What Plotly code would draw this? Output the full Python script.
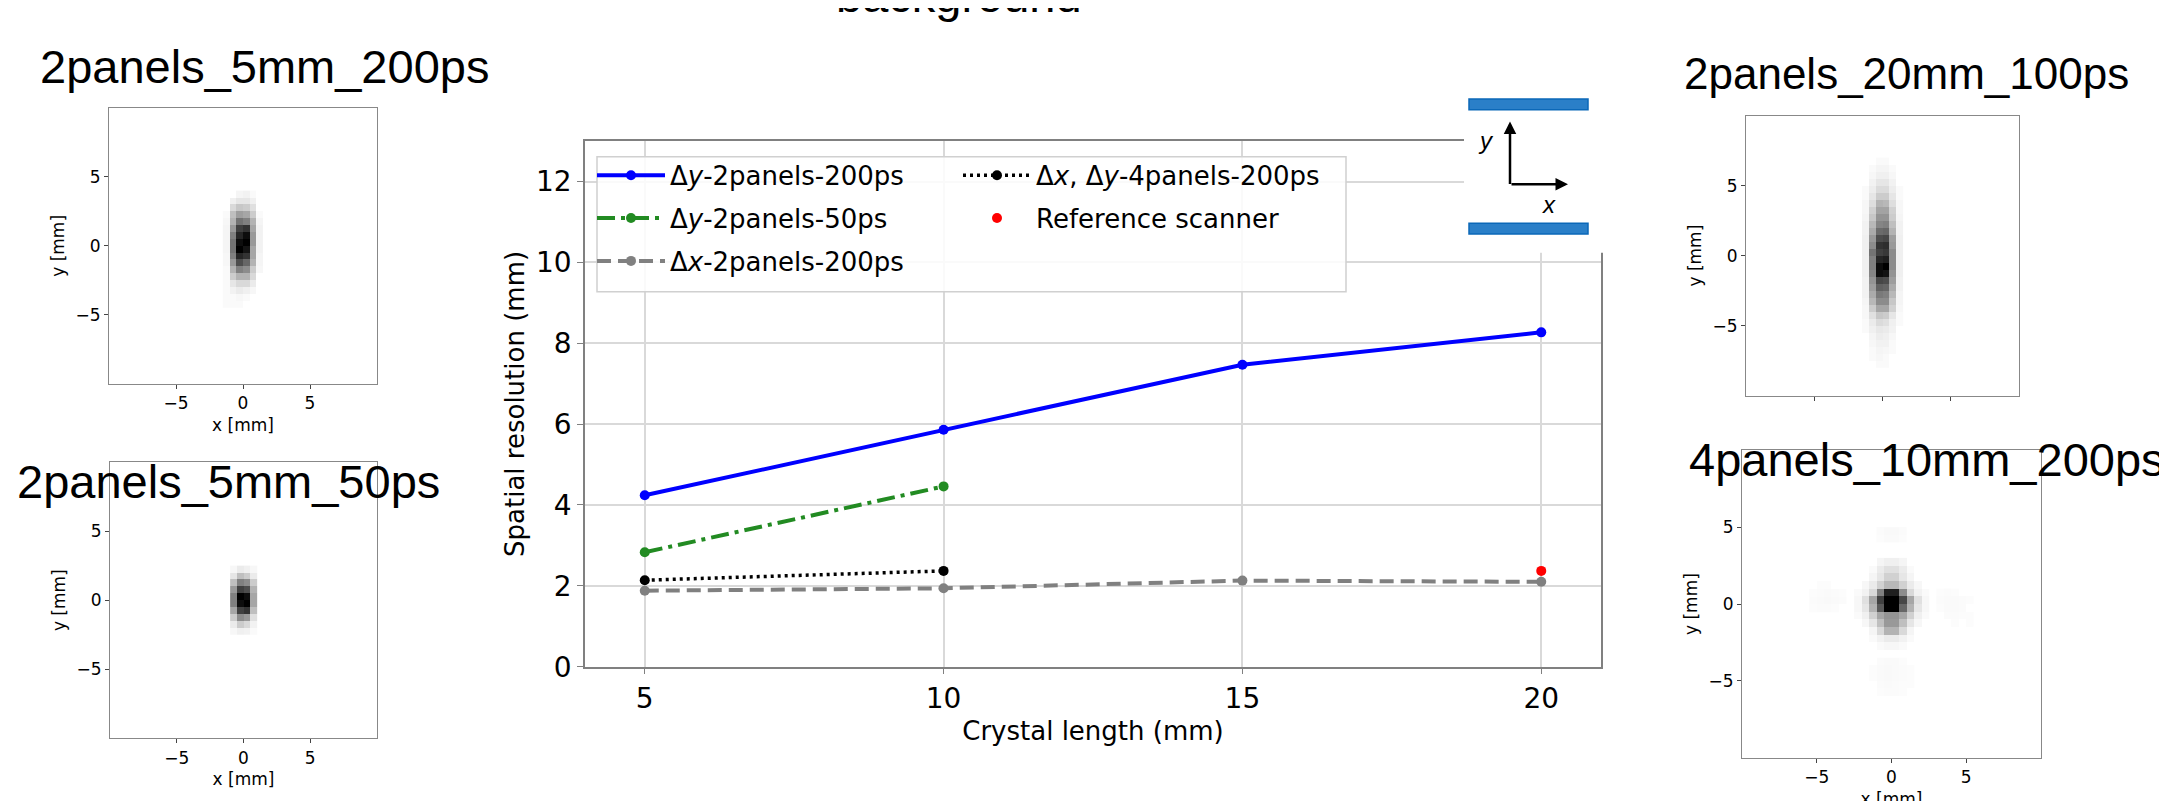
import plotly.graph_objects as go

W, H = 2167, 801

# ---------------- main chart data ----------------
crystal_len = [5, 10, 15, 20]
dy_2p_200 = [4.24, 5.86, 7.47, 8.27]
crystal_len_50 = [5, 10]
dy_2p_50 = [2.83, 4.46]
dx_2p_200 = [1.88, 1.94, 2.13, 2.10]
crystal_len_4p = [5, 10]
dxy_4p_200 = [2.14, 2.37]
ref_x = [20]
ref_y = [2.37]
x_ticks = [5, 10, 15, 20]
y_ticks = [0, 2, 4, 6, 8, 10, 12]
panel_ticks = [-5, 0, 5]

# ---------------- heatmap panels (0.5 mm bins, rows listed top -> bottom) -------------
p1_x = [-1.25, -0.75, -0.25, 0.25, 0.75, 1.25]
p1_y = [3.75, 3.25, 2.75, 2.25, 1.75, 1.25, 0.75, 0.25, -0.25, -0.75, -1.25, -1.75,
        -2.25, -2.75, -3.25, -3.75, -4.25]
p1_z = [
    [0, 0, 0.04, 0.05, 0.02, 0],
    [0, 0.06, 0.10, 0.10, 0.06, 0],
    [0, 0.15, 0.22, 0.20, 0.12, 0],
    [0.02, 0.25, 0.38, 0.35, 0.20, 0.02],
    [0.03, 0.30, 0.55, 0.50, 0.30, 0.04],
    [0.04, 0.40, 0.75, 0.80, 0.35, 0.05],
    [0.04, 0.50, 0.85, 0.95, 0.40, 0.05],
    [0.04, 0.55, 0.95, 1.00, 0.40, 0.05],
    [0.04, 0.55, 1.00, 0.92, 0.35, 0.05],
    [0.03, 0.50, 0.85, 0.80, 0.35, 0.04],
    [0.03, 0.40, 0.70, 0.60, 0.30, 0.04],
    [0.02, 0.30, 0.50, 0.45, 0.20, 0.03],
    [0.02, 0.20, 0.30, 0.30, 0.15, 0],
    [0.02, 0.10, 0.15, 0.15, 0.08, 0],
    [0.02, 0.05, 0.08, 0.06, 0.03, 0],
    [0.02, 0.02, 0.03, 0.02, 0, 0],
    [0.02, 0.02, 0.02, 0, 0, 0],
]

p2_x = [-0.75, -0.25, 0.25, 0.75]
p2_y = [2.25, 1.75, 1.25, 0.75, 0.25, -0.25, -0.75, -1.25, -1.75, -2.25]
p2_z = [
    [0.03, 0.08, 0.06, 0.03],
    [0.10, 0.25, 0.20, 0.08],
    [0.25, 0.50, 0.45, 0.20],
    [0.40, 0.75, 0.70, 0.30],
    [0.50, 1.00, 0.95, 0.35],
    [0.50, 0.95, 1.00, 0.35],
    [0.35, 0.75, 0.80, 0.25],
    [0.20, 0.45, 0.40, 0.12],
    [0.08, 0.20, 0.15, 0.05],
    [0.03, 0.06, 0.05, 0.02],
]

p3_x = [-1.25, -0.75, -0.25, 0.25, 0.75, 1.25]
p3_y = [6.75, 6.25, 5.75, 5.25, 4.75, 4.25, 3.75, 3.25, 2.75, 2.25, 1.75, 1.25, 0.75,
        0.25, -0.25, -0.75, -1.25, -1.75, -2.25, -2.75, -3.25, -3.75, -4.25, -4.75,
        -5.25, -5.75, -6.25, -6.75, -7.25, -7.75]
p3_z = [
    [0, 0, 0.02, 0.02, 0, 0],
    [0, 0.02, 0.04, 0.04, 0.02, 0],
    [0, 0.03, 0.06, 0.06, 0.03, 0],
    [0, 0.05, 0.10, 0.10, 0.05, 0],
    [0.02, 0.07, 0.14, 0.14, 0.07, 0.02],
    [0.02, 0.10, 0.20, 0.20, 0.10, 0.02],
    [0.03, 0.13, 0.30, 0.28, 0.13, 0.03],
    [0.03, 0.18, 0.36, 0.36, 0.18, 0.03],
    [0.04, 0.22, 0.42, 0.42, 0.20, 0.04],
    [0.05, 0.28, 0.48, 0.50, 0.25, 0.05],
    [0.05, 0.33, 0.58, 0.60, 0.30, 0.05],
    [0.06, 0.40, 0.70, 0.72, 0.38, 0.06],
    [0.06, 0.45, 0.80, 0.82, 0.40, 0.06],
    [0.06, 0.55, 0.75, 0.78, 0.45, 0.06],
    [0.06, 0.50, 0.85, 0.88, 0.45, 0.06],
    [0.06, 0.50, 0.95, 1.00, 0.45, 0.06],
    [0.06, 0.48, 0.95, 0.92, 0.42, 0.06],
    [0.05, 0.42, 0.72, 0.70, 0.38, 0.05],
    [0.05, 0.38, 0.62, 0.60, 0.33, 0.05],
    [0.05, 0.33, 0.52, 0.50, 0.28, 0.04],
    [0.04, 0.28, 0.45, 0.45, 0.22, 0.04],
    [0.03, 0.20, 0.35, 0.35, 0.18, 0.03],
    [0.03, 0.12, 0.22, 0.20, 0.10, 0.02],
    [0.02, 0.08, 0.14, 0.12, 0.06, 0.02],
    [0.02, 0.06, 0.09, 0.08, 0.05, 0],
    [0, 0.04, 0.07, 0.06, 0.03, 0],
    [0, 0.03, 0.05, 0.05, 0.02, 0],
    [0, 0.02, 0.04, 0.03, 0.02, 0],
    [0, 0.02, 0.03, 0.02, 0, 0],
    [0, 0, 0.02, 0.02, 0, 0],
]

p4_x = [-2.25, -1.75, -1.25, -0.75, -0.25, 0.25, 0.75, 1.25, 1.75, 2.25]
p4_y = [2.75, 2.25, 1.75, 1.25, 0.75, 0.25, -0.25, -0.75, -1.25, -1.75, -2.25, -2.75]
p4_z = [
    [0, 0, 0, 0.04, 0.06, 0.06, 0.04, 0, 0, 0],
    [0, 0, 0.02, 0.08, 0.12, 0.12, 0.08, 0.02, 0, 0],
    [0, 0, 0.04, 0.10, 0.18, 0.18, 0.10, 0.04, 0, 0],
    [0, 0.03, 0.08, 0.18, 0.28, 0.28, 0.18, 0.08, 0.03, 0],
    [0.02, 0.05, 0.15, 0.50, 0.88, 0.88, 0.45, 0.15, 0.05, 0.02],
    [0.03, 0.12, 0.35, 0.75, 1.00, 1.00, 0.72, 0.35, 0.12, 0.03],
    [0.03, 0.10, 0.30, 0.65, 1.00, 1.00, 0.60, 0.30, 0.10, 0.03],
    [0.02, 0.06, 0.18, 0.35, 0.42, 0.42, 0.35, 0.18, 0.06, 0.02],
    [0, 0.03, 0.10, 0.25, 0.40, 0.40, 0.25, 0.10, 0.03, 0],
    [0, 0, 0.04, 0.15, 0.30, 0.30, 0.15, 0.04, 0, 0],
    [0, 0, 0.02, 0.05, 0.08, 0.08, 0.05, 0.02, 0, 0],
    [0, 0, 0, 0.02, 0.03, 0.03, 0.02, 0, 0, 0],
]
# faint ghost spots of the 4-panel image
g_top_x = [-0.75, -0.25, 0.25, 0.75]
g_top_y = [4.75, 4.25]
g_top_z = [[0.015, 0.025, 0.025, 0.015], [0.01, 0.02, 0.02, 0.01]]
g_bot_x = [-1.25, -0.75, -0.25, 0.25, 0.75, 1.25]
g_bot_y = [-3.75, -4.25, -4.75, -5.25, -5.75]
g_bot_z = [[0, 0.015, 0.02, 0.02, 0.01, 0], [0.01, 0.02, 0.025, 0.02, 0.015, 0.01],
           [0.01, 0.02, 0.025, 0.02, 0.015, 0.01], [0, 0.015, 0.02, 0.015, 0.01, 0.01],
           [0, 0.01, 0.015, 0.015, 0.01, 0]]
g_left_x = [-5.25, -4.75, -4.25, -3.75, -3.25]
g_left_y = [1.25, 0.75, 0.25, -0.25]
g_left_z = [[0, 0.01, 0.01, 0, 0], [0.01, 0.015, 0.02, 0.015, 0.01],
            [0.015, 0.02, 0.025, 0.02, 0.015], [0.01, 0.015, 0.015, 0.01, 0]]
g_right_x = [3.25, 3.75, 4.25, 4.75, 5.25]
g_right_y = [0.75, 0.25, -0.25, -0.75, -1.25]
g_right_z = [[0.01, 0.015, 0.01, 0, 0], [0.015, 0.02, 0.02, 0.015, 0.01],
             [0.01, 0.02, 0.02, 0.015, 0], [0, 0.015, 0.015, 0.01, 0.01], [0, 0, 0.01, 0, 0.01]]

panel_titles = ["2panels_5mm_200ps", "2panels_5mm_50ps", "2panels_20mm_100ps", "4panels_10mm_200ps"]


def px(x):
    return x / W


def py(y):
    return 1 - y / H


GREYS = [[0, "#ffffff"], [1, "#000000"]]
MAIN_FONT = "DejaVu Sans"
TITLE_FONT = "Liberation Sans, Arial"

fig = go.Figure()


def heat(xs, ys, z, ax):
    fig.add_trace(go.Heatmap(x=xs, y=ys[::-1], z=z[::-1], colorscale=GREYS, zmin=0, zmax=1,
                             showscale=False, hoverinfo="skip", xaxis="x" + ax, yaxis="y" + ax))


heat(p1_x, p1_y, p1_z, "2")
heat(p2_x, p2_y, p2_z, "3")
heat(p3_x, p3_y, p3_z, "4")
heat(p4_x, p4_y, p4_z, "5")
heat(g_top_x, g_top_y, g_top_z, "5")
heat(g_bot_x, g_bot_y, g_bot_z, "5")
heat(g_left_x, g_left_y, g_left_z, "5")
heat(g_right_x, g_right_y, g_right_z, "5")

# main chart traces
fig.add_trace(go.Scatter(x=crystal_len, y=dy_2p_200, mode="lines+markers",
                         name="Δ<i>y</i>-2panels-200ps", line=dict(color="#0000ff", width=4),
                         marker=dict(size=10, color="#0000ff"), legend="legend", legendgroup="a"))
fig.add_trace(go.Scatter(x=crystal_len_50, y=dy_2p_50, mode="lines+markers",
                         name="Δ<i>y</i>-2panels-50ps",
                         line=dict(color="#228b22", width=4, dash="18px,6px,4px,6px"),
                         marker=dict(size=10, color="#228b22"), legend="legend", legendgroup="b"))
fig.add_trace(go.Scatter(x=crystal_len, y=dx_2p_200, mode="lines+markers",
                         name="Δ<i>x</i>-2panels-200ps",
                         line=dict(color="#808080", width=4, dash="14px,7px"),
                         marker=dict(size=10, color="#808080"), legend="legend", legendgroup="c"))
fig.add_trace(go.Scatter(x=crystal_len_4p, y=dxy_4p_200, mode="lines+markers",
                         name="Δ<i>x</i>, Δ<i>y</i>-4panels-200ps",
                         line=dict(color="#000000", width=3.5, dash="3px,4px"),
                         marker=dict(size=10, color="#000000"), legend="legend2", legendgroup="d"))
fig.add_trace(go.Scatter(x=ref_x, y=ref_y, mode="markers", name="Reference scanner",
                         marker=dict(size=10, color="#ff0000"), legend="legend2", legendgroup="e"))

for tr in fig.data[:8]:
    tr.showlegend = False

main_axis = dict(showline=True, mirror=True, linecolor="#808080", linewidth=1.5,
                 showgrid=True, gridcolor="#d9d9d9", gridwidth=1.5, zeroline=False,
                 ticks="outside", ticklen=6, tickcolor="#808080",
                 tickfont=dict(family=MAIN_FONT, size=28, color="#000"))

panel_axis = dict(showline=True, mirror=True, linecolor="#888888", linewidth=1.2,
                  showgrid=False, zeroline=False, ticks="outside", ticklen=4,
                  tickcolor="#444", tickvals=panel_ticks, range=[-10, 10],
                  tickfont=dict(family=MAIN_FONT, size=17, color="#000"))


def ptitle(t):
    return dict(text=t, font=dict(family=MAIN_FONT, size=17, color="#000"), standoff=6)


fig.update_layout(
    width=W, height=H, margin=dict(l=0, r=0, t=0, b=0),
    paper_bgcolor="white", plot_bgcolor="rgba(0,0,0,0)",
    xaxis=dict(main_axis, domain=[px(577), px(1593)], range=[4, 21], tickvals=x_ticks,
               title=dict(text="Crystal length (mm)",
                          font=dict(family=MAIN_FONT, size=26, color="#000"), standoff=8)),
    yaxis=dict(main_axis, domain=[py(673), py(136)], range=[0, 13], tickvals=y_ticks,
               title=dict(text="Spatial resolution (mm)",
                          font=dict(family=MAIN_FONT, size=26, color="#000"), standoff=4)),
    xaxis2=dict(panel_axis, domain=[px(101), px(369)], anchor="y2", title=ptitle("x [mm]")),
    yaxis2=dict(panel_axis, domain=[py(384), py(102)], anchor="x2", title=ptitle("y [mm]")),
    xaxis3=dict(panel_axis, domain=[px(102), px(369)], anchor="y3", title=ptitle("x [mm]")),
    yaxis3=dict(panel_axis, domain=[py(746), py(464)], anchor="x3", title=ptitle("y [mm]")),
    xaxis4=dict(panel_axis, domain=[px(1738), px(2011)], anchor="y4"),
    yaxis4=dict(panel_axis, domain=[py(396), py(110)], anchor="x4", title=ptitle("y [mm]")),
    xaxis5=dict(panel_axis, domain=[px(1734), px(2033)], anchor="y5", title=ptitle("x [mm]")),
    yaxis5=dict(panel_axis, domain=[py(766), py(452)], anchor="x5", title=ptitle("y [mm]")),
    legend=dict(x=px(584), y=py(147), xanchor="left", yanchor="top", itemwidth=68,
                bgcolor="rgba(0,0,0,0)", borderwidth=0, tracegroupgap=6,
                traceorder="grouped", font=dict(family=MAIN_FONT, size=26, color="#000")),
    legend2=dict(x=px(950), y=py(147), xanchor="left", yanchor="top", itemwidth=68,
                 bgcolor="rgba(0,0,0,0)", borderwidth=0, tracegroupgap=6,
                 traceorder="grouped", font=dict(family=MAIN_FONT, size=26, color="#000")),
    showlegend=True,
)

shapes = [
    # legend frame
    dict(type="rect", xref="paper", yref="paper", x0=px(589), x1=px(1338), y0=py(290), y1=py(152),
         fillcolor="rgba(255,255,255,0.85)", line=dict(color="#d0d0d0", width=1.5), layer="above"),
    # inset white box covering the plot corner
    dict(type="rect", xref="paper", yref="paper", x0=px(1456), x1=px(1612), y0=py(250), y1=py(60),
         fillcolor="white", line=dict(width=0), layer="above"),
    # detector panels
    dict(type="rect", xref="paper", yref="paper", x0=px(1461), x1=px(1580), y0=py(104), y1=py(93),
         fillcolor="#2a7fc8", line=dict(color="#0b68b8", width=1.5), layer="above"),
    dict(type="rect", xref="paper", yref="paper", x0=px(1461), x1=px(1580), y0=py(231), y1=py(220),
         fillcolor="#2a7fc8", line=dict(color="#0b68b8", width=1.5), layer="above"),
    # clip regions
    dict(type="rect", xref="paper", yref="paper", x0=0, x1=px(520), y0=py(455), y1=py(420),
         fillcolor="white", line=dict(width=0), layer="above"),
    dict(type="rect", xref="paper", yref="paper", x0=px(1700), x1=px(2070), y0=py(440), y1=py(406),
         fillcolor="white", line=dict(width=0), layer="above"),
]
fig.update_layout(shapes=shapes)

ann = []
title_pos = [(256, 60, "center", 47), (220, 484, "center", 47),
             (1898, 67, "center", 44), (1679, 461, "left", 47)]
for t, (x, y, anc, fs) in zip(panel_titles, title_pos):
    ann.append(dict(text=t, x=px(x), y=py(y), xref="paper", yref="paper", showarrow=False,
                    xanchor=anc, yanchor="middle", font=dict(family=TITLE_FONT, size=fs, color="#000")))
ann.append(dict(text="background", x=px(951), y=py(-13), xref="paper", yref="paper", showarrow=False,
                xanchor="center", yanchor="middle", font=dict(family=TITLE_FONT, size=47, color="#000")))
# coordinate arrows
ann.append(dict(text="", x=px(1502), y=py(116), xref="paper", yref="paper", showarrow=True,
                ax=0, ay=64, arrowhead=2, arrowsize=1, arrowwidth=2.5, arrowcolor="#000"))
ann.append(dict(text="", x=px(1560), y=py(180), xref="paper", yref="paper", showarrow=True,
                ax=-58, ay=0, arrowhead=2, arrowsize=1, arrowwidth=2.5, arrowcolor="#000"))
ann.append(dict(text="<i>y</i>", x=px(1488), y=py(120), xref="paper", yref="paper", showarrow=False,
                font=dict(family=TITLE_FONT, size=24, color="#000")))
ann.append(dict(text="<i>x</i>", x=px(1550), y=py(185), xref="paper", yref="paper", showarrow=False,
                font=dict(family=TITLE_FONT, size=24, color="#000")))
fig.update_layout(annotations=ann)

fig.write_html("out.html")
